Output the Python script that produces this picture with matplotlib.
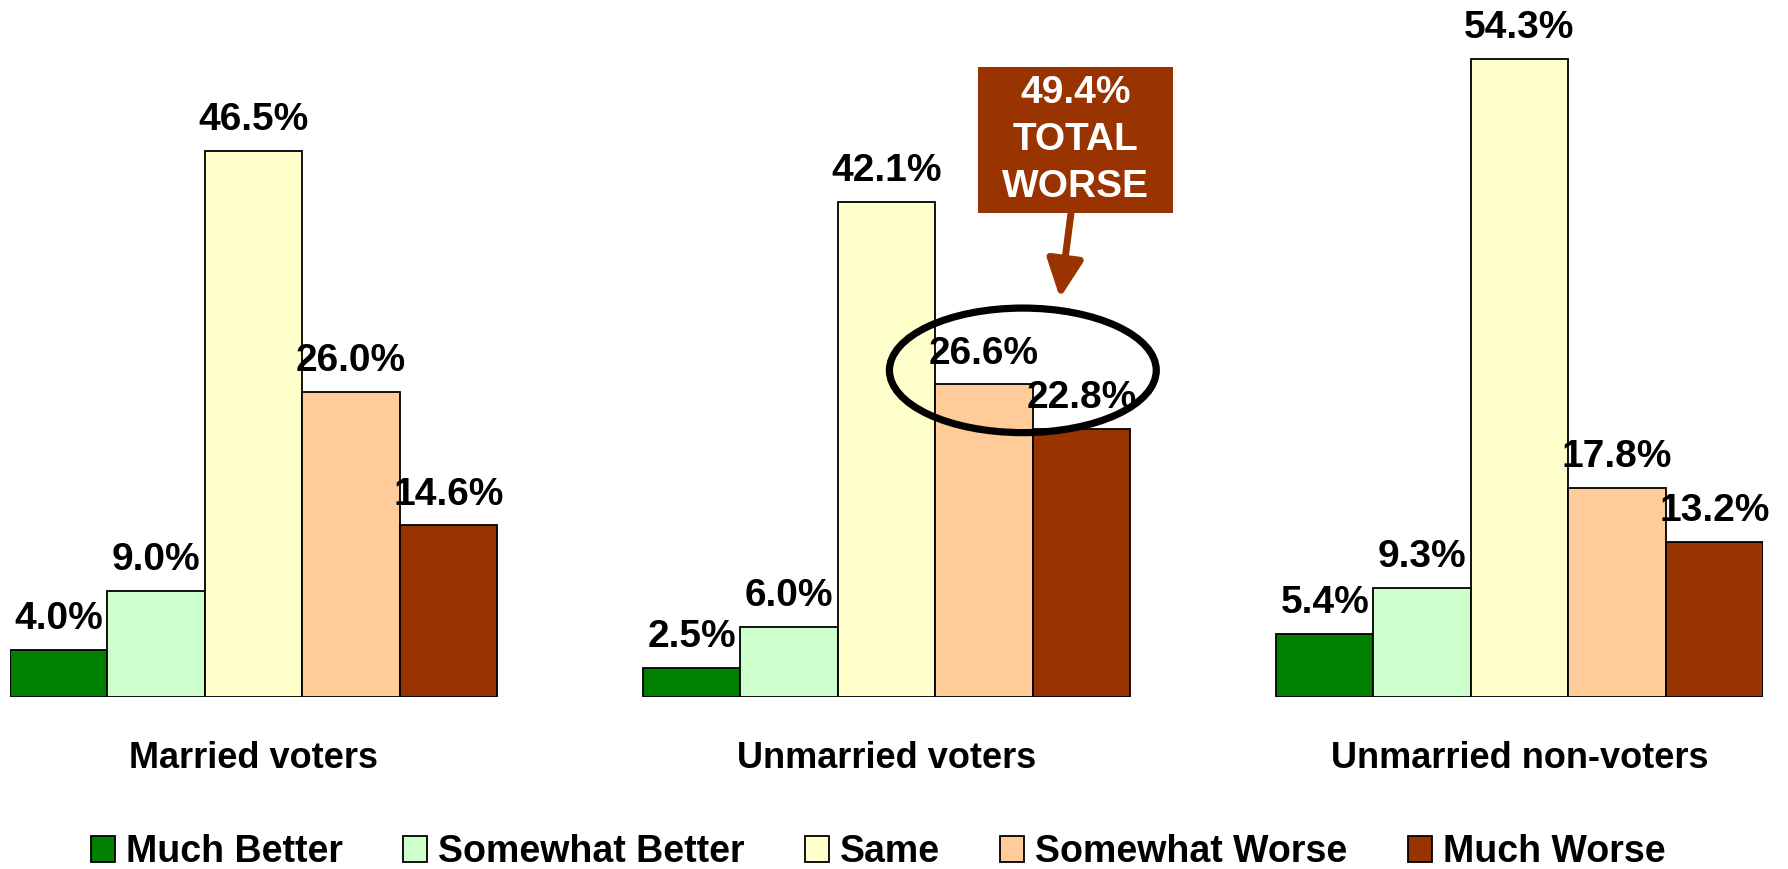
import matplotlib
matplotlib.use("Agg")
import matplotlib.pyplot as plt
from matplotlib.patches import Ellipse, Rectangle, Patch
import numpy as np

plt.rcParams['font.family'] = ['Liberation Sans', 'DejaVu Sans']

groups = ["Married voters", "Unmarried voters", "Unmarried non-voters"]
series = ["Much Better", "Somewhat Better", "Same", "Somewhat Worse", "Much Worse"]
colors = ["#008000", "#CCFFCC", "#FFFFCC", "#FFCC99", "#993300"]
much_better = [4.0, 2.5, 5.4]
somewhat_better = [9.0, 6.0, 9.3]
same = [46.5, 42.1, 54.3]
somewhat_worse = [26.0, 26.6, 17.8]
much_worse = [14.6, 22.8, 13.2]
values = [much_better, somewhat_better, same, somewhat_worse, much_worse]
callout_text = "49.4%\nTOTAL\nWORSE"

W, H = 1788, 869
fig = plt.figure(figsize=(W / 100, H / 100), dpi=100)
ax = fig.add_axes([10 / W, (H - 697) / H, 1753 / W, 55 * 11.75 / H])

group_step = 6.5
group_x = np.arange(len(groups)) * group_step
for i, (name, vals, col) in enumerate(zip(series, values, colors)):
    xs = group_x + (i - 2)
    ax.bar(xs, vals, width=1.0, color=col, edgecolor="black", linewidth=1.3, label=name)
    for x, v in zip(xs, vals):
        ax.annotate(f"{v:.1f}%", (x, v), xytext=(0, 15), textcoords="offset points",
                    ha="center", va="baseline", fontsize=28, fontweight="bold")

ax.set_xlim(-2.5, 2 * group_step + 2.5)
ax.set_ylim(0, 55)
ax.set_xticks(group_x)
ax.set_xticklabels(groups, fontsize=26, fontweight="bold")
ax.tick_params(axis="x", length=0, pad=32)
ax.set_yticks([])
for s in ax.spines.values():
    s.set_visible(False)

# ellipse around the two "worse" bars of unmarried voters
ell = Ellipse((group_x[1] + 1.4, 27.8), 2.74, 10.6, fill=False, edgecolor="black",
              linewidth=5.2, clip_on=False, zorder=5)
ax.add_patch(ell)

# callout box
bx0, by0, bw, bh = 978, 67, 195, 146
rect = Rectangle((bx0 / W, (H - by0 - bh) / H), bw / W, bh / H,
                 transform=fig.transFigure, facecolor="#993300",
                 edgecolor="none", zorder=6)
fig.patches.append(rect)
rect.set_figure(fig)
fig.text((bx0 + bw / 2) / W, (H - by0 - bh / 2) / H, callout_text, ha="center", va="center",
         color="white", fontsize=28, fontweight="bold", linespacing=1.4, zorder=7)
ax.annotate("", xy=(1060 / W, (H - 298) / H), xycoords="figure fraction",
            xytext=(1071 / W, (H - 213) / H), textcoords="figure fraction",
            arrowprops=dict(arrowstyle="-|>,head_length=2.3,head_width=1.1",
                            color="#993300", lw=5, shrinkA=0, shrinkB=0),
            annotation_clip=False)

handles = [Patch(facecolor=c, edgecolor="black", linewidth=1.3) for c in colors]
fig.legend(handles, series, loc="center", bbox_to_anchor=(878 / W, 17 / H), ncol=5,
           frameon=False, prop=dict(size=27, weight="bold"), handlelength=0.64,
           handleheight=0.7, handletextpad=0.3, columnspacing=1.6, borderpad=0)

fig.savefig("out.png", dpi=100)
